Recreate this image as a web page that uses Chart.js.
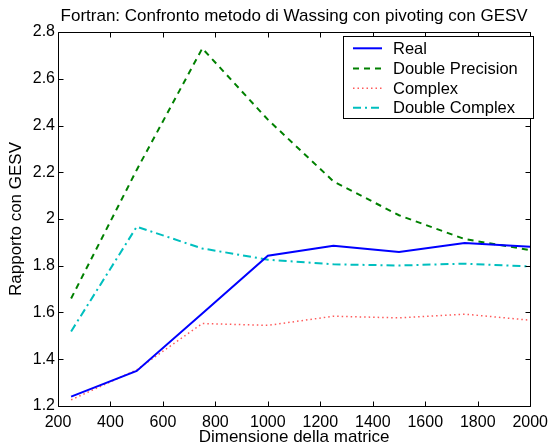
<!DOCTYPE html>
<html>
<head>
<meta charset="utf-8">
<script src="https://cdn.jsdelivr.net/npm/chart.js@4/dist/chart.umd.min.js"></script>
<style>
html,body{margin:0;padding:0;background:#fff;}
#wrap{width:555px;height:446px;position:relative;}
</style>
</head>
<body>
<div id="wrap"><canvas id="c" width="555" height="446"></canvas></div>
<script>
// ---- data ----
const chartTitle = "Fortran: Confronto metodo di Wassing con pivoting con GESV";
const xTitle = "Dimensione della matrice";
const yTitle = "Rapporto con GESV";
const sizes = [250, 500, 750, 1000, 1250, 1500, 1750, 2000];
const seriesNames = ["Real", "Double Precision", "Complex", "Double Complex"];
const realVals = [1.240, 1.350, 1.596, 1.843, 1.886, 1.859, 1.897, 1.881];
const doublePrecisionVals = [1.660, 2.210, 2.730, 2.425, 2.161, 2.016, 1.914, 1.867];
const complexVals = [1.226, 1.355, 1.553, 1.545, 1.584, 1.577, 1.593, 1.567];
const doubleComplexVals = [1.519, 1.967, 1.874, 1.826, 1.806, 1.801, 1.809, 1.797];
const xTicks = [200, 400, 600, 800, 1000, 1200, 1400, 1600, 1800, 2000];
const yTicks = [1.2, 1.4, 1.6, 1.8, 2.0, 2.2, 2.4, 2.6, 2.8];

const FONT = "'Liberation Sans', Arial, Helvetica, sans-serif";
const toPts = vals => sizes.map((x, i) => ({x: x, y: vals[i]}));

const styles = [
  {color: '#0000ff', width: 2, dash: []},
  {color: '#008000', width: 2, dash: [6, 5]},
  {color: '#ff5a5a', width: 1.5, dash: [1.5, 3]},
  {color: '#00bfbf', width: 2, dash: [8, 4, 2, 4]}
];
const allVals = [realVals, doublePrecisionVals, complexVals, doubleComplexVals];

const datasets = allVals.map((v, i) => ({
  label: seriesNames[i],
  data: toPts(v),
  borderColor: styles[i].color,
  backgroundColor: styles[i].color,
  borderWidth: styles[i].width,
  borderDash: styles[i].dash,
  pointRadius: 0,
  tension: 0,
  fill: false,
  clip: false
}));

const matlabAxes = {
  id: 'matlabAxes',
  afterDatasetsDraw(chart) {
    const ctx = chart.ctx;
    const a = chart.chartArea;
    const xs = chart.scales.x, ys = chart.scales.y;
    ctx.save();
    ctx.strokeStyle = '#000';
    ctx.lineWidth = 1;
    ctx.setLineDash([]);
    ctx.beginPath();
    const L = Math.round(a.left) + 0.5, R = Math.round(a.right) + 0.5;
    const T = Math.round(a.top) + 0.5, B = Math.round(a.bottom) + 0.5;
    ctx.rect(L, T, R - L, B - T);
    const tl = 5;
    xTicks.forEach(v => {
      const px = Math.round(xs.getPixelForValue(v)) + 0.5;
      ctx.moveTo(px, B); ctx.lineTo(px, B - tl);
      ctx.moveTo(px, T); ctx.lineTo(px, T + tl);
    });
    yTicks.forEach(v => {
      const py = Math.round(ys.getPixelForValue(v)) + 0.5;
      ctx.moveTo(L, py); ctx.lineTo(L + tl, py);
      ctx.moveTo(R, py); ctx.lineTo(R - tl, py);
    });
    ctx.stroke();

    // legend box
    const lx = 343.5, ly = 36.5, lw = 190, lh = 82;
    ctx.fillStyle = '#fff';
    ctx.fillRect(lx, ly, lw, lh);
    ctx.strokeRect(lx, ly, lw, lh);
    const rows = [48.3, 68.5, 88.3, 107.7];
    ctx.font = "16.5px " + FONT;
    ctx.textBaseline = 'middle';
    ctx.textAlign = 'left';
    chart.data.datasets.forEach((ds, i) => {
      const y = rows[i];
      ctx.beginPath();
      ctx.strokeStyle = ds.borderColor;
      ctx.lineWidth = ds.borderWidth;
      ctx.setLineDash(ds.borderDash);
      ctx.moveTo(353, y); ctx.lineTo(382, y);
      ctx.stroke();
      ctx.fillStyle = '#000';
      ctx.fillText(ds.label, 393, y + 1);
    });

    // title
    ctx.setLineDash([]);
    ctx.fillStyle = '#000';
    ctx.font = "17px " + FONT;
    ctx.textAlign = 'center';
    ctx.textBaseline = 'alphabetic';
    ctx.fillText(chartTitle, (a.left + a.right) / 2, 21);
    ctx.restore();
  }
};

new Chart(document.getElementById('c'), {
  type: 'line',
  data: {datasets: datasets},
  options: {
    responsive: false,
    animation: false,
    devicePixelRatio: 1,
    layout: {padding: {top: 32, right: 21, left: 0, bottom: 0}},
    plugins: {legend: {display: false}, title: {display: false}, tooltip: {enabled: false}},
    scales: {
      x: {
        type: 'linear',
        min: 200, max: 2000,
        afterBuildTicks: s => { s.ticks = xTicks.map(v => ({value: v})); },
        afterFit: s => { s.height = 40; },
        grid: {display: true, drawOnChartArea: false, drawTicks: false, color: 'rgba(0,0,0,0)'},
        border: {display: false},
        ticks: {color: '#000', font: {family: FONT, size: 16}, padding: 7, maxRotation: 0, autoSkip: false,
                callback: v => String(v)},
        title: {display: true, text: xTitle, color: '#000', font: {family: FONT, size: 17, lineHeight: 1.0}, padding: {top: 0, bottom: 0}}
      },
      y: {
        type: 'linear',
        min: 1.2, max: 2.8,
        afterBuildTicks: s => { s.ticks = yTicks.map(v => ({value: v})); },
        afterFit: s => { s.width = 58; },
        grid: {display: true, drawOnChartArea: false, drawTicks: false, color: 'rgba(0,0,0,0)'},
        border: {display: false},
        ticks: {color: '#000', font: {family: FONT, size: 16}, padding: 3, autoSkip: false,
                callback: v => String(Number(v.toFixed(1)))},
        title: {display: true, text: yTitle, color: '#000', font: {family: FONT, size: 17}, padding: {top: 6, bottom: 0}}
      }
    }
  },
  plugins: [matlabAxes]
});
</script>
</body>
</html>
